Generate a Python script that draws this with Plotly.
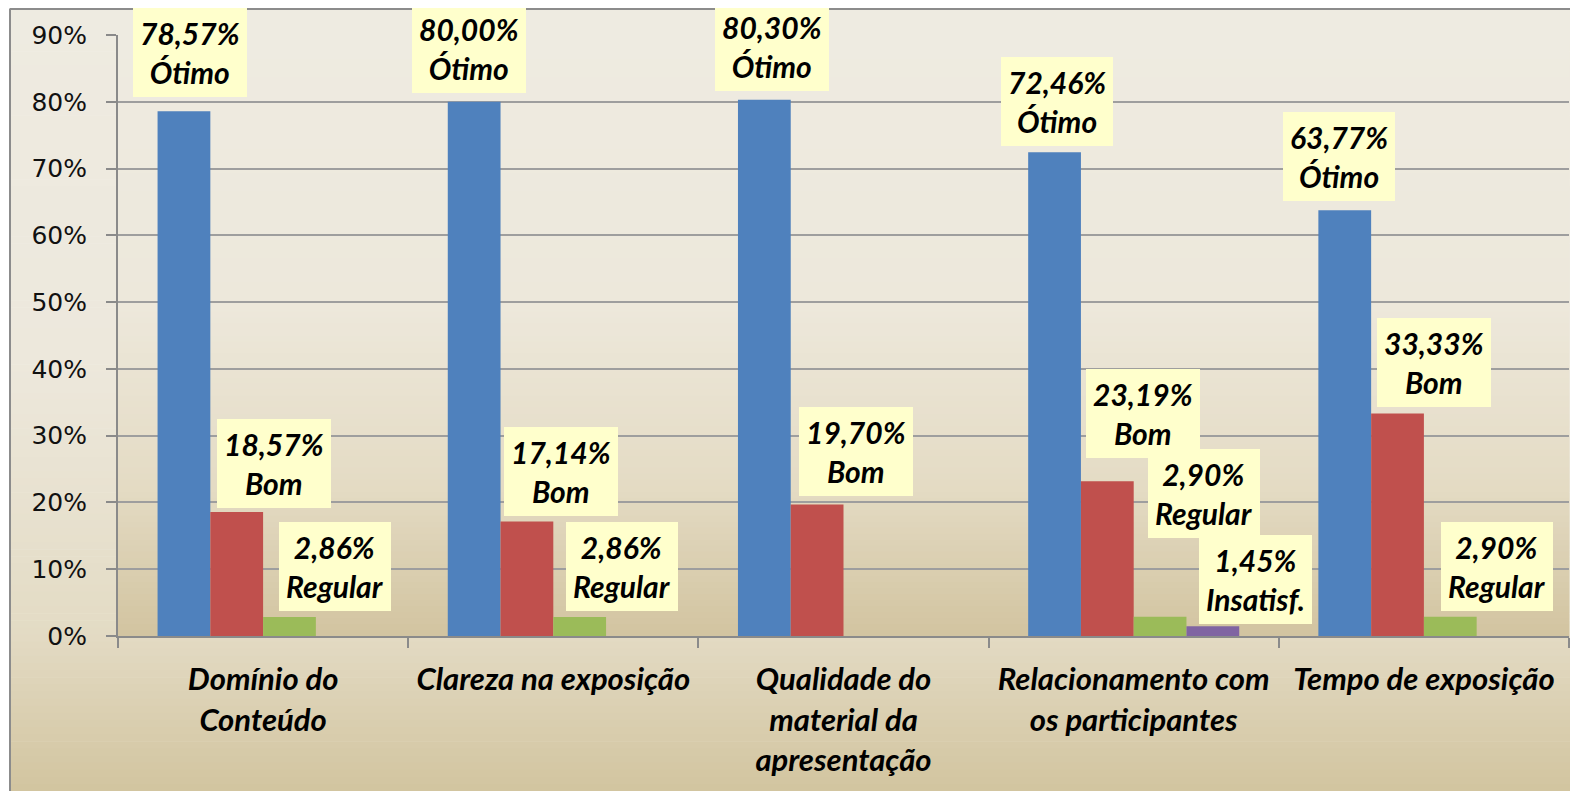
import plotly.graph_objects as go

# ---------------- data ----------------
categories = ["Domínio do Conteúdo", "Clareza na exposição",
              "Qualidade do material da apresentação",
              "Relacionamento com os participantes", "Tempo de exposição"]
tick_labels = ["Domínio do<br>Conteúdo", "Clareza na exposição",
               "Qualidade do<br>material da<br>apresentação",
               "Relacionamento com<br>os participantes", "Tempo de exposição"]
series_names = ["Ótimo", "Bom", "Regular", "Insatisf."]
otimo = [78.57, 80.00, 80.30, 72.46, 63.77]
bom = [18.57, 17.14, 19.70, 23.19, 33.33]
regular = [2.86, 2.86, 0.0, 2.90, 2.90]
insatisf = [0.0, 0.0, 0.0, 1.45, 0.0]
y_ticks = [0, 10, 20, 30, 40, 50, 60, 70, 80, 90]
y_tick_text = [f"{v}%" for v in y_ticks]

# ---------------- style ----------------
colors = ["#4F81BD", "#C0504D", "#9BBB59", "#8064A2"]
label_xshift = [[-73, -84, -72, -77, -85],
                [11, 8, 12, 9, 10],
                [72, 69, 0, 70, 73],
                [0, 0, 0, 122, 0]]
label_yshift = [[14, 9, 9, 6, 9],
                [4, 6, 8, 23, 6],
                [6, 6, 0, 79, 6],
                [0, 0, 0, 2, 0]]

OFF = 8                     # page body margin
W, H = 1578 - OFF, 791 - OFF
L, R, T, B = 118 - OFF, 1569 - OFF, 35 - OFF, 636 - OFF


def X(px):
    return (px - L) / (R - L)


def Y(py):
    return (B - py) / (B - T)


def interp(stops, f):
    for (f0, c0), (f1, c1) in zip(stops, stops[1:]):
        if f0 <= f <= f1:
            t = 0 if f1 == f0 else (f - f0) / (f1 - f0)
            return "rgb(%d,%d,%d)" % tuple(round(a + (b - a) * t) for a, b in zip(c0, c1))
    return "rgb(%d,%d,%d)" % stops[-1][1]


chart_stops = [(0, (238, 235, 225)), (0.45, (237, 232, 220)),
               (0.8, (227, 219, 196)), (1.0, (210, 196, 159))]
plot_stops = [(0, (238, 235, 225)), (0.45, (237, 232, 219)),
              (0.75, (228, 219, 196)), (1.0, (210, 196, 160))]

shapes = []


def bands(x0, x1, y0, y1, stops, n):
    h = (y1 - y0) / n
    for i in range(n):
        ya, yb = y0 + i * h, y0 + (i + 1) * h + 0.6
        col = interp(stops, (i + 0.5) / n)
        shapes.append(dict(type="rect", xref="paper", yref="paper",
                           x0=X(x0), x1=X(x1), y0=Y(ya), y1=Y(min(yb, y1)),
                           fillcolor=col, line=dict(width=0), layer="below"))


bx, by = 10 - OFF, 0.5
bands(bx, W, by, H, chart_stops, 110)
bands(L, R, T, B, plot_stops, 100)
# chart border (left and top)
shapes.append(dict(type="line", xref="paper", yref="paper", x0=X(bx), x1=X(bx),
                   y0=Y(by), y1=Y(H), line=dict(color="#8C8C8C", width=2), layer="below"))
shapes.append(dict(type="line", xref="paper", yref="paper", x0=X(bx), x1=X(W),
                   y0=Y(by + 0.5), y1=Y(by + 0.5), line=dict(color="#8C8C8C", width=2), layer="below"))

fig = go.Figure()
all_series = [otimo, bom, regular, insatisf]
for name, vals, col in zip(series_names, all_series, colors):
    fig.add_trace(go.Bar(x=categories, y=vals, name=name, marker=dict(color=col, line=dict(width=0)),
                         hoverinfo="x+y"))

label_font = dict(family="Lato", size=30, color="black", weight="bold", style="italic")
annotations = []
for s, (name, vals) in enumerate(zip(series_names, all_series)):
    for c, v in enumerate(vals):
        if v <= 0:
            continue
        txt = f"{v:.2f}".replace(".", ",") + "%<br>" + name
        annotations.append(dict(x=categories[c], y=v, xref="x", yref="y", text=txt,
                                showarrow=False, xanchor="center", yanchor="bottom",
                                xshift=label_xshift[s][c], yshift=label_yshift[s][c],
                                bgcolor="#FFFFCC", borderpad=7, borderwidth=0,
                                font=label_font))

fig.update_layout(
    width=W, height=H, autosize=False,
    margin=dict(l=L, r=W - R, t=T, b=H - B, pad=0),
    paper_bgcolor="white", plot_bgcolor="rgba(0,0,0,0)",
    barmode="group", bargap=1.5 / 5.5, bargroupgap=0,
    showlegend=False, shapes=shapes, annotations=annotations,
    xaxis=dict(tickmode="array", tickvals=categories, ticktext=tick_labels,
               tickson="boundaries", ticks="outside", ticklen=10, tickwidth=2,
               tickcolor="#8A8A8A", showline=True, linecolor="#8A8A8A", linewidth=2,
               showgrid=False, ticklabelstandoff=15,
               tickfont=dict(family="Lato", size=31, color="black", weight="bold", style="italic")),
    yaxis=dict(range=[0, 90], tickmode="array", tickvals=y_ticks, ticktext=y_tick_text,
               ticks="outside", ticklen=10, tickwidth=2, tickcolor="#8A8A8A", showline=True,
               linecolor="#8A8A8A", linewidth=2, showgrid=True, gridcolor="#9E9E9E",
               gridwidth=2, zeroline=False, ticklabelstandoff=14,
               tickfont=dict(family="DejaVu Sans", size=25, color="#111111")),
)

fig.write_html("out.html")
